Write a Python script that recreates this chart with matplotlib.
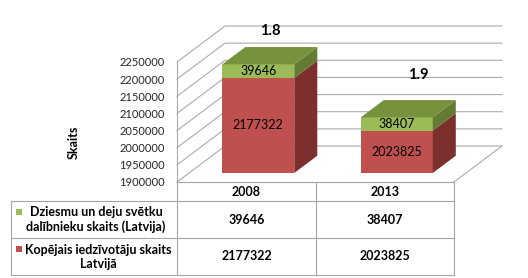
import matplotlib

matplotlib.use("Agg")
import matplotlib.pyplot as plt
from matplotlib.patches import Polygon, Rectangle

plt.rcParams["font.family"] = ["Lato", "DejaVu Sans"]

# dati
years = ["2008", "2013"]
population = [2177322, 2023825]      # Kopējais iedzīvotāju skaits Latvijā
participants = [39646, 38407]        # Dziesmu un deju svētku dalībnieku skaits
ratio_labels = ["1.8", "1.9"]
series_names = ["Dziesmu un deju svētku\ndalībnieku skaits (Latvija)",
                "Kopējais iedzīvotāju skaits\nLatvijā"]
y_min, y_max, y_step = 1900000, 2250000, 50000

# krāsas
RED, RED_SIDE, RED_TOP = "#C0504D", "#7D2F2E", "#9A3E3B"
GREEN, GREEN_SIDE, GREEN_TOP = "#9BBB59", "#637C32", "#76923C"
GRID = "#ABABAB"

W, H = 528, 278
fig = plt.figure(figsize=(W / 100, H / 100), dpi=100)

# priekšējā plakne: x 177..454 px, y 182..62 px
px_l, px_r, px_b, px_t = 177, 454, 182, 62
ax = fig.add_axes([px_l / W, (H - px_b) / H, (px_r - px_l) / W, (px_b - px_t) / H])
ax.set_xlim(0, len(years))
ax.set_ylim(y_min, y_max)
for s in ax.spines.values():
    s.set_visible(False)
ax.set_xticks([])
ticks = list(range(y_min, y_max + 1, y_step))
ax.set_yticks(ticks)
ax.set_yticklabels([str(t) for t in ticks], fontsize=8, color="#262626")
ax.tick_params(axis="y", length=0, pad=9)
ax.set_ylabel("Skaits", fontsize=9, fontweight="bold")
ax.yaxis.set_label_coords(-0.35, 0.33)
ax.patch.set_visible(False)

# dziļuma vektors (pikseļos -> datu vienībās)
x_per_px = len(years) / (px_r - px_l)
y_per_px = (y_max - y_min) / (px_b - px_t)
DX, DY = 48 * x_per_px, 36 * y_per_px
f0, f1 = 0.25, 0.73
bar_w = 72 * x_per_px


def P(x, y, f):
    return (x + f * DX, y + f * DY)


# sienas un režģis
for t in ticks:
    ax.plot([P(0, t, 0)[0], P(0, t, 1)[0], P(len(years), t, 1)[0]],
            [P(0, t, 0)[1], P(0, t, 1)[1], P(len(years), t, 1)[1]],
            color=GRID, lw=0.8, clip_on=False, zorder=1)
ax.plot([0, 0], [y_min, y_max], color=GRID, lw=0.8, clip_on=False, zorder=1)
fr = [P(len(years), y_min, 0), P(len(years), y_min, 1)]
ax.plot([fr[0][0], fr[1][0]], [fr[0][1], fr[1][1]], color=GRID, lw=0.8,
        clip_on=False, zorder=1)


def box(xc, y0, y1, front, side, top, draw_top):
    xl, xr = xc - bar_w / 2, xc + bar_w / 2
    ax.add_patch(Polygon([P(xl, y0, f0), P(xr, y0, f0), P(xr, y1, f0), P(xl, y1, f0)],
                         closed=True, fc=front, ec="none", clip_on=False, zorder=3))
    ax.add_patch(Polygon([P(xr, y0, f0), P(xr, y0, f1), P(xr, y1, f1), P(xr, y1, f0)],
                         closed=True, fc=side, ec="none", clip_on=False, zorder=3))
    if draw_top:
        ax.add_patch(Polygon([P(xl, y1, f0), P(xr, y1, f0), P(xr, y1, f1), P(xl, y1, f1)],
                             closed=True, fc=top, ec="none", clip_on=False, zorder=3))


pct_offset_px = [(12, 16), (22, 25)]
for i, yr in enumerate(years):
    xc = i + 0.5
    pop, part = population[i], participants[i]
    box(xc, y_min, pop, RED, RED_SIDE, RED_TOP, False)
    box(xc, pop, pop + part, GREEN, GREEN_SIDE, GREEN_TOP, True)
    lx, ly = P(xc, (y_min + pop) / 2, f0)
    ax.text(lx, ly, str(pop), ha="center", va="center", fontsize=9, zorder=5)
    lx, ly = P(xc, pop + part / 2, f0)
    ax.text(lx, ly, str(part), ha="center", va="center", fontsize=9, zorder=5)
    tx, ty = P(xc, pop + part, f1)
    ox, oy = pct_offset_px[i]
    ax.text(xc + f0 * DX + ox * x_per_px, ty + oy * y_per_px, ratio_labels[i],
            ha="center", va="center", fontsize=10.5, fontweight="bold", zorder=5)

# datu tabula
lay = fig.add_axes([0, 0, 1, 1])
lay.set_xlim(0, W)
lay.set_ylim(H, 0)
lay.axis("off")
col_x = [11, 177, 316, 454]
row_y = [182, 201, 238, 275]
TB = "#A6A6A6"
lay.plot([col_x[1], col_x[3]], [row_y[0], row_y[0]], color=TB, lw=0.8)
for y in row_y[1:]:
    lay.plot([col_x[0], col_x[3]], [y, y], color=TB, lw=0.8)
lay.plot([col_x[0], col_x[0]], [row_y[1], row_y[3]], color=TB, lw=0.8)
for x in col_x[1:]:
    lay.plot([x, x], [row_y[0], row_y[3]], color=TB, lw=0.8)

for j, yr in enumerate(years):
    cx = (col_x[j + 1] + col_x[j + 2]) / 2
    lay.text(cx, (row_y[0] + row_y[1]) / 2, yr, ha="center", va="center",
             fontsize=9, fontweight="bold")
    lay.text(cx, (row_y[1] + row_y[2]) / 2, str(participants[j]), ha="center",
             va="center", fontsize=9, fontweight="bold")
    lay.text(cx, (row_y[2] + row_y[3]) / 2, str(population[j]), ha="center",
             va="center", fontsize=9, fontweight="bold")

label_cx = [96, 98]
key_pos = [(16, 212), (16, 249)]
for k, (name, col) in enumerate(zip(series_names, [GREEN, RED])):
    lay.text(label_cx[k], (row_y[k + 1] + row_y[k + 2]) / 2, name, ha="center",
             va="center", fontsize=9, fontweight="bold", linespacing=1.2)
    kx, ky = key_pos[k]
    lay.add_patch(Rectangle((kx, ky - 3), 6, 6, fc=col, ec="none"))

fig.savefig("out.png", dpi=100)
